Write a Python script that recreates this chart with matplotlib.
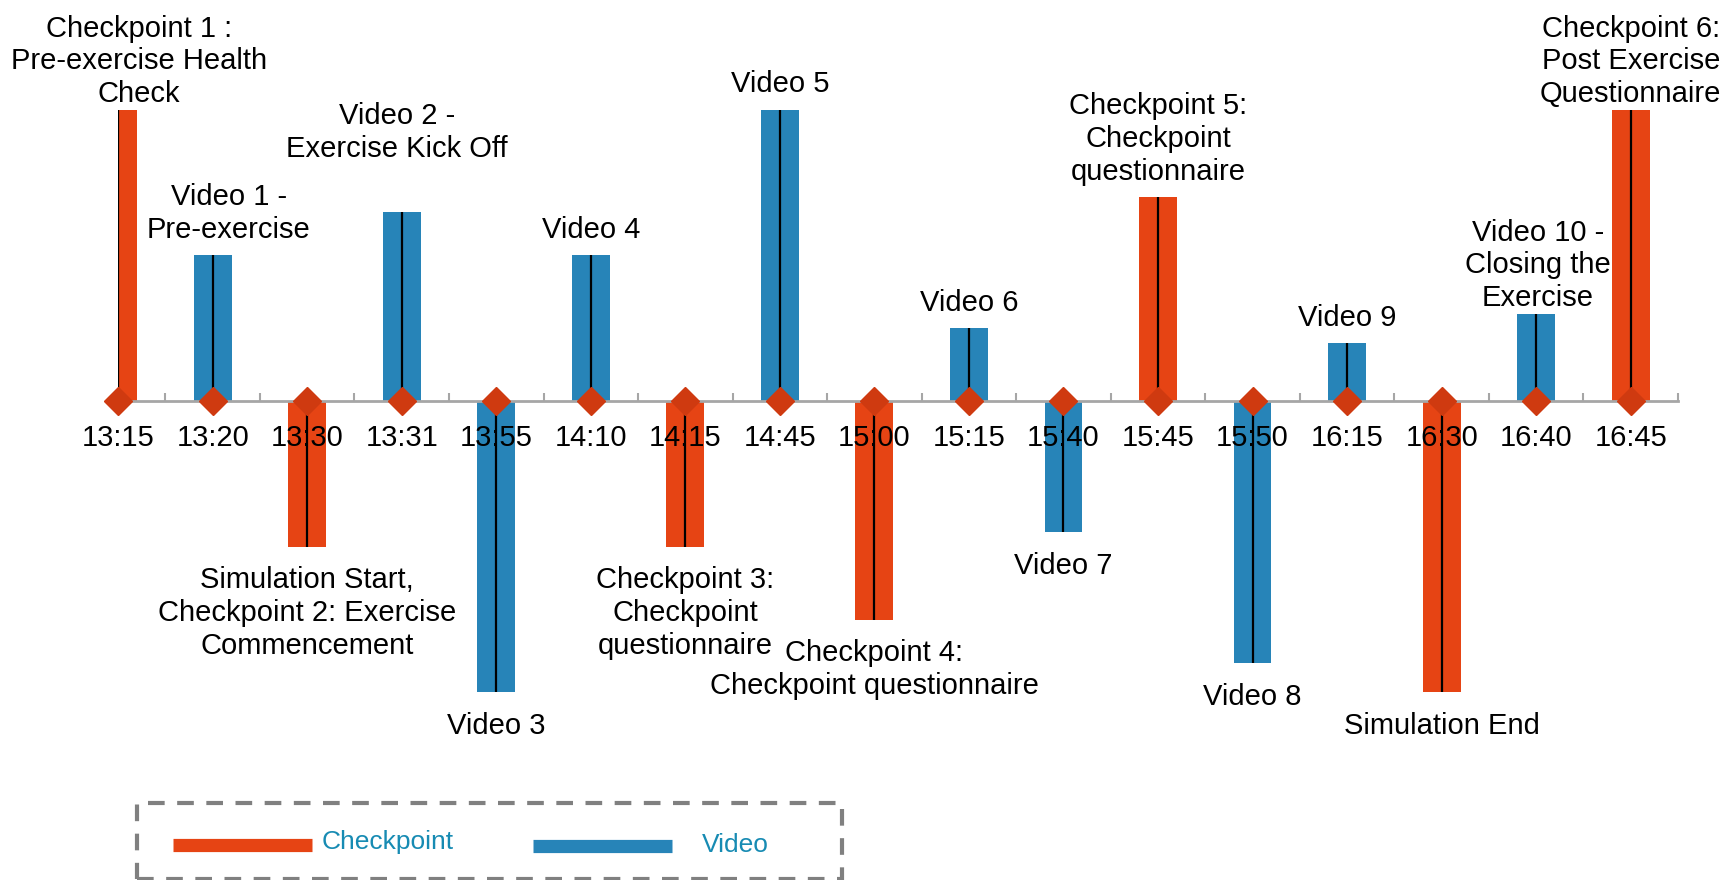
import matplotlib.pyplot as plt
from matplotlib.lines import Line2D
from matplotlib.patches import Rectangle

times = ['13:15', '13:20', '13:30', '13:31', '13:55', '14:10', '14:15', '14:45', '15:00',
         '15:15', '15:40', '15:45', '15:50', '16:15', '16:30', '16:40', '16:45']
kinds = ['Checkpoint', 'Video', 'Checkpoint', 'Video', 'Video', 'Video', 'Checkpoint', 'Video',
         'Checkpoint', 'Video', 'Video', 'Checkpoint', 'Video', 'Video', 'Checkpoint', 'Video',
         'Checkpoint']
heights = [20, 10, -10, 13, -20, 10, -10, 20, -15, 5, -9, 14, -18, 4, -20, 6, 20]
labels = ['Checkpoint 1 :\nPre-exercise Health\nCheck',
          'Video 1 -\nPre-exercise',
          'Simulation Start,\nCheckpoint 2: Exercise\nCommencement',
          'Video 2 -\nExercise Kick Off',
          'Video 3',
          'Video 4',
          'Checkpoint 3:\nCheckpoint\nquestionnaire',
          'Video 5',
          'Checkpoint 4:\nCheckpoint questionnaire',
          'Video 6',
          'Video 7',
          'Checkpoint 5:\nCheckpoint\nquestionnaire',
          'Video 8',
          'Video 9',
          'Simulation End',
          'Video 10 -\nClosing the\nExercise',
          'Checkpoint 6:\nPost Exercise\nQuestionnaire']

colors = {'Checkpoint': '#e64414', 'Video': '#2784b8'}
# small hand nudges for the labels (x in category units, y in points)
nudge_x = {0: 0.22, 1: 0.17, 3: -0.05, 15: 0.02}
nudge_y = {0: -7, 3: 27, 15: -7, 16: -7}

plt.rcParams['font.family'] = ['Liberation Sans', 'DejaVu Sans']

fig = plt.figure(figsize=(17.29, 8.8), dpi=100)
ax = fig.add_axes([0.0683, 0.0, 0.9022, 1.0])

x = list(range(len(times)))
ax.bar(x, heights, width=0.4, color=[colors[k] for k in kinds], zorder=2)
ax.vlines(x, 0, heights, color='black', lw=1.6, zorder=4)
ax.plot(x, [0] * len(x), 'D', color='#cf3a10', markersize=14, clip_on=False, zorder=5)

for i, (h, lab) in enumerate(zip(heights, labels)):
    if h > 0:
        dy = 8 + nudge_y.get(i, 0)
    else:
        dy = -(14 + nudge_y.get(i, 0))
    ax.annotate(lab, (i + nudge_x.get(i, 0), h), xytext=(0, dy),
                textcoords='offset points', ha='center', va='bottom' if h > 0 else 'top',
                fontsize=21, linespacing=1.22, zorder=3)

ax.set_xlim(0, len(times) - 0.5)
ax.set_ylim(-32.87, 27.52)
for s in ['left', 'right', 'top']:
    ax.spines[s].set_visible(False)
ax.spines['bottom'].set_position(('data', 0))
ax.spines['bottom'].set_color('#a6a6a6')
ax.spines['bottom'].set_linewidth(2)
ax.spines['bottom'].set_zorder(3)
ax.xaxis.set_zorder(3)
ax.set_yticks([])
ax.set_xticks([i + 0.5 for i in x])
ax.tick_params(axis='x', which='major', direction='in', length=6, width=1.5,
               color='#a6a6a6', labelbottom=False)
ax.set_xticks(x, minor=True)
ax.set_xticklabels(times, minor=True)
ax.tick_params(axis='x', which='minor', length=0, pad=16.5, labelsize=21)

# hand-drawn legend with dashed frame (bottom edge sits on the figure border)
fig.add_artist(Rectangle((0.079, 0.0015), 0.408, 0.0855, transform=fig.transFigure,
                         fill=False, ls=(0, (4, 3)), lw=3, edgecolor='#808080'))
fig.add_artist(Line2D([0.1001, 0.1805], [0.0401, 0.0401], transform=fig.transFigure,
                      color=colors['Checkpoint'], lw=9.5, solid_capstyle='butt'))
fig.add_artist(Line2D([0.308, 0.3884], [0.0388, 0.0388], transform=fig.transFigure,
                      color=colors['Video'], lw=9.5, solid_capstyle='butt'))
fig.text(0.1862, 0.043, 'Checkpoint', fontsize=19, color='#178bb3', va='center', ha='left')
fig.text(0.4062, 0.040, 'Video', fontsize=19, color='#178bb3', va='center', ha='left')

fig.savefig('out.png', dpi=100)
